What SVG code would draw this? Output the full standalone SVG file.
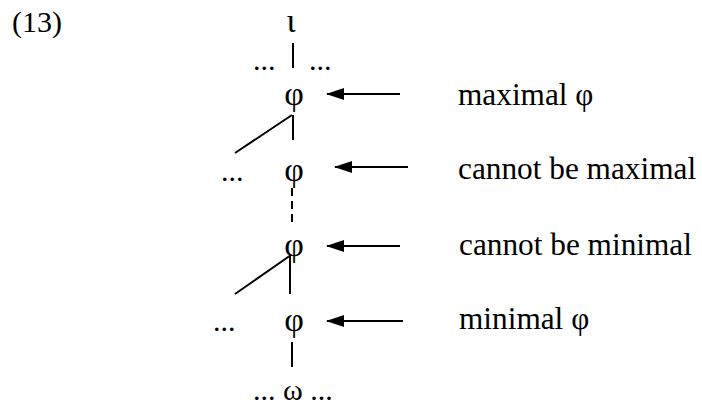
<svg xmlns="http://www.w3.org/2000/svg" width="702" height="408" viewBox="0 0 702 408">
<style>
text{font-family:"Liberation Serif","Times New Roman",serif;font-size:30px;fill:#000}
.mid{text-anchor:middle}
.node{font-size:34px}
.lbl{font-size:31.3px}
.ln{stroke:#000;stroke-width:2;fill:none}
.dash{stroke-dasharray:8 5}
</style>
<defs>
<marker id="ah" viewBox="0 0 18 12" refX="17" refY="6" markerWidth="18" markerHeight="12" markerUnits="userSpaceOnUse" orient="auto">
<path d="M0,0 L18,6 L0,12 Z" fill="#000"/>
</marker>
</defs>
<text id="label13" x="12" y="32">(13)</text>
<g id="iota"><text class="mid node" x="291" y="32">ι</text></g>
<g id="dots-top"><text x="253" y="70">...</text><text x="309" y="70">...</text></g>
<g id="phi1"><text class="mid node" x="294" y="105">φ</text></g>
<g id="phi2"><text class="mid node" x="294" y="181">φ</text><text x="221" y="181">...</text></g>
<g id="phi3"><text class="mid node" x="294" y="256">φ</text></g>
<g id="phi4"><text class="mid node" x="294" y="331">φ</text><text x="213" y="331">...</text></g>
<g id="omega"><text x="253" y="400">... ω ...</text></g>
<g id="labels">
<text class="lbl" x="458" y="105">maximal φ</text>
<text class="lbl" x="458" y="179">cannot be maximal</text>
<text class="lbl" x="459" y="255">cannot be minimal</text>
<text class="lbl" x="459" y="329">minimal φ</text>
</g>
<g id="connectors">
<line class="ln" x1="293" y1="43" x2="293" y2="68"/>
<line class="ln" x1="293" y1="115" x2="293" y2="140"/>
<line class="ln" x1="292" y1="115" x2="235" y2="153"/>
<line class="ln dash" x1="292" y1="188" x2="292" y2="224"/>
<line class="ln" x1="290" y1="256" x2="290" y2="294"/>
<line class="ln" x1="291" y1="255" x2="235" y2="294"/>
<line class="ln" x1="292" y1="342" x2="292" y2="367"/>
<line class="ln" x1="400" y1="94" x2="327" y2="94" marker-end="url(#ah)"/>
<line class="ln" x1="408" y1="167" x2="335" y2="167" marker-end="url(#ah)"/>
<line class="ln" x1="400" y1="246" x2="327" y2="246" marker-end="url(#ah)"/>
<line class="ln" x1="403" y1="321" x2="327" y2="321" marker-end="url(#ah)"/>
</g>
</svg>
